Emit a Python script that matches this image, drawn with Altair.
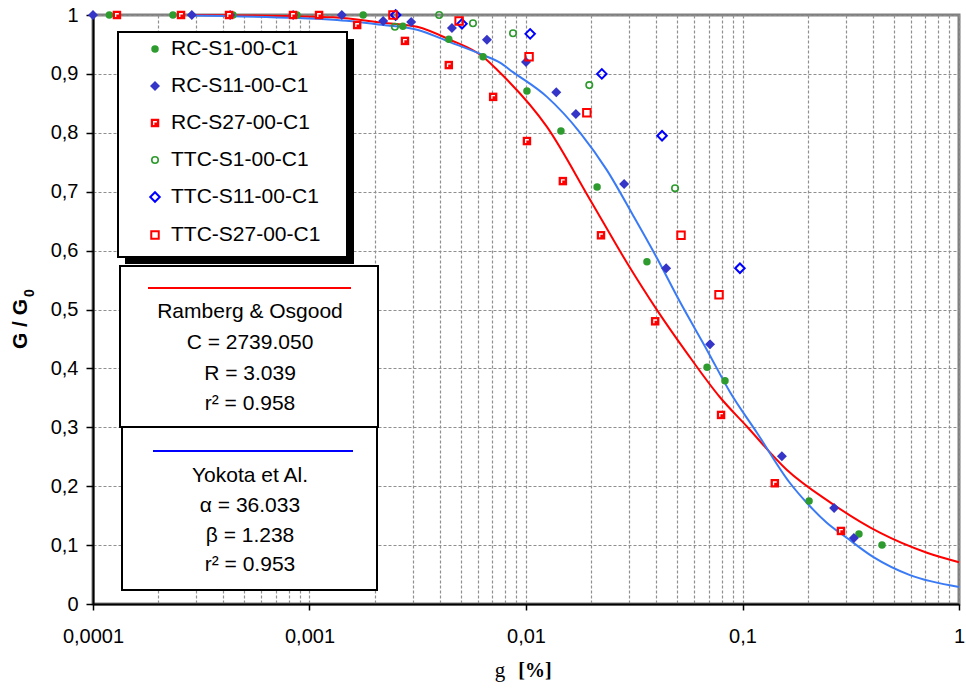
import altair as alt
import pandas as pd

# ---------------- data (strain g in %, G/G0) ----------------
rc_s1_x = [1.19e-4, 2.34e-4, 4.43e-4, 8.75e-4, 1.77e-3, 2.70e-3, 4.40e-3, 6.33e-3, 0.0101, 0.0145, 0.0213, 0.0362, 0.0686, 0.0830, 0.203, 0.345, 0.441]
rc_s1_y = [1.0, 1.0, 1.0, 1.0, 1.0, 0.981, 0.959, 0.929, 0.871, 0.803, 0.708, 0.581, 0.402, 0.379, 0.175, 0.119, 0.100]

rc_s11_x = [1.0e-4, 2.86e-4, 4.30e-4, 8.4e-4, 1.41e-3, 2.19e-3, 2.95e-3, 4.55e-3, 6.60e-3, 0.0100, 0.0138, 0.0170, 0.0284, 0.0444, 0.0708, 0.152, 0.265, 0.327]
rc_s11_y = [1.0, 1.0, 1.0, 1.0, 1.0, 0.990, 0.988, 0.978, 0.958, 0.920, 0.869, 0.832, 0.713, 0.570, 0.441, 0.251, 0.163, 0.112]

rc_s27_x = [1.29e-4, 2.55e-4, 4.25e-4, 8.39e-4, 1.107e-3, 1.66e-3, 2.76e-3, 4.40e-3, 7.05e-3, 0.0101, 0.0148, 0.0222, 0.0395, 0.0796, 0.141, 0.285]
rc_s27_y = [1.0, 1.0, 1.0, 1.0, 1.0, 0.983, 0.956, 0.915, 0.861, 0.786, 0.718, 0.626, 0.480, 0.321, 0.205, 0.124]

ttc_s1_x = [2.48e-3, 3.97e-3, 5.69e-3, 8.71e-3, 0.0196, 0.0488]
ttc_s1_y = [0.980, 1.0, 0.986, 0.969, 0.881, 0.706]

ttc_s11_x = [2.50e-3, 5.06e-3, 0.01045, 0.0224, 0.0425, 0.0973]
ttc_s11_y = [1.0, 0.985, 0.968, 0.900, 0.795, 0.570]

ttc_s27_x = [2.43e-3, 4.91e-3, 0.01033, 0.0191, 0.0520, 0.0779]
ttc_s27_y = [1.0, 0.990, 0.929, 0.834, 0.626, 0.525]

# fitted curves
ro_x = [2.86e-4, 8.4e-4, 1.285e-3, 2.19e-3, 3.14e-3, 4.45e-3, 6.33e-3, 7.35e-3, 0.0125, 0.0198, 0.0293, 0.0403, 0.0554, 0.0787, 0.105, 0.160, 0.253, 0.431, 0.711, 1.0]
ro_y = [1.0, 0.998, 0.996, 0.987, 0.980, 0.958, 0.929, 0.907, 0.810, 0.686, 0.579, 0.499, 0.426, 0.351, 0.301, 0.228, 0.173, 0.121, 0.087, 0.071]

yk_x = [2.86e-4, 1.285e-3, 2.19e-3, 3.14e-3, 4.45e-3, 6.33e-3, 7.58e-3, 8.71e-3, 0.0125, 0.0178, 0.0236, 0.0312, 0.0403, 0.0514, 0.0686, 0.0875, 0.117, 0.166, 0.199, 0.245, 0.304, 0.401, 0.594, 1.0]
yk_y = [0.999, 0.992, 0.983, 0.975, 0.954, 0.932, 0.919, 0.903, 0.861, 0.800, 0.737, 0.660, 0.587, 0.513, 0.431, 0.360, 0.290, 0.205, 0.171, 0.138, 0.112, 0.080, 0.049, 0.029]

series_names = ["RC-S1-00-C1", "RC-S11-00-C1", "RC-S27-00-C1", "TTC-S1-00-C1", "TTC-S11-00-C1", "TTC-S27-00-C1"]
series_x = [rc_s1_x, rc_s11_x, rc_s27_x, ttc_s1_x, ttc_s11_x, ttc_s27_x]
series_y = [rc_s1_y, rc_s11_y, rc_s27_y, ttc_s1_y, ttc_s11_y, ttc_s27_y]

ro_text = ["Ramberg & Osgood", "C = 2739.050", "R = 3.039", "r² = 0.958"]
yk_text = ["Yokota et Al.", "α = 36.033", "β = 1.238", "r² = 0.953"]

x_major = [0.0001, 0.001, 0.01, 0.1, 1]
y_ticks = [0, 0.1, 0.2, 0.3, 0.4, 0.5, 0.6, 0.7, 0.8, 0.9, 1.0]

# ---------------- styles ----------------
styles = [
    dict(shape="circle", filled=True, color="#2e9b2e", size=56, strokeWidth=0),
    dict(shape="diamond", filled=True, color="#3535c8", size=100, strokeWidth=0),
    dict(shape="square", filled=True, color="#ff0000", size=72, strokeWidth=0),
    dict(shape="circle", filled=False, color="#2e9b2e", size=42, strokeWidth=1.6),
    dict(shape="diamond", filled=False, color="#0000ff", size=90, strokeWidth=2),
    dict(shape="square", filled=False, color="#ff0000", size=56, strokeWidth=2),
]
CORNER = "M-0.3,0.45L-0.3,-0.3L0.45,-0.3"  # white highlight inside the filled red squares

FONT = "Liberation Sans"
W, H = 866, 589

x_grid_vals = [float(f"{m}e{e}") for e in range(-4, 0) for m in range(1, 10)] + [1.0]
MAJ = "abs(log(datum.value)/LN10 - round(log(datum.value)/LN10)) < 0.001"

x_axis = alt.Axis(
    values=x_grid_vals, title=None, grid=True, gridColor="#8f8f8f", gridDash=[3, 2], gridWidth=1.2,
    domainColor="black", domainWidth=2, tickColor="black", tickWidth=1.5, tickSize=6,
    tickOpacity={"condition": {"test": MAJ, "value": 1}, "value": 0},
    labelExpr=f"{MAJ} ? replace(format(datum.value, '~g'), '.', ',') : ''",
    labelFont=FONT, labelFontSize=20, labelColor="black", labelPadding=16,
    labelOverlap=False, labelFlush=False, labelBound=False,
)
y_axis = alt.Axis(
    values=y_ticks, title=None, grid=True, gridColor="#8f8f8f", gridDash=[3, 2], gridWidth=1.2,
    domainColor="black", domainWidth=2, tickColor="black", tickWidth=1.5, tickSize=7,
    labelExpr="replace(format(datum.value, '.1~f'), '.', ',')",
    labelFont=FONT, labelFontSize=20, labelColor="black", labelPadding=8,
    labelOverlap=False, labelFlush=False, labelBound=False,
)
xscale = alt.Scale(type="log", domain=[0.0001, 1], nice=False)
yscale = alt.Scale(domain=[0, 1], nice=False)
X = alt.X("x:Q", scale=xscale, axis=x_axis)
Y = alt.Y("y:Q", scale=yscale, axis=y_axis)

layers = []

# fitted curves
layers.append(alt.Chart(pd.DataFrame({"x": ro_x, "y": ro_y})).mark_line(
    color="#ff0000", strokeWidth=2, interpolate="monotone").encode(x=X, y=Y))
layers.append(alt.Chart(pd.DataFrame({"x": yk_x, "y": yk_y})).mark_line(
    color="#3a7bf5", strokeWidth=2, interpolate="monotone").encode(x=X, y=Y))

# data points
for i, (name, xs, ys, st) in enumerate(zip(series_names, series_x, series_y, styles)):
    df = pd.DataFrame({"x": xs, "y": ys})
    layers.append(alt.Chart(df).mark_point(
        shape=st["shape"], filled=st["filled"], color=st["color"], size=st["size"],
        strokeWidth=st["strokeWidth"], opacity=1).encode(x=X, y=Y))
    if i == 2:
        layers.append(alt.Chart(df).mark_point(
            shape=CORNER, filled=False, color="white", size=st["size"],
            strokeWidth=1.3, opacity=1).encode(x=X, y=Y))

one = alt.Data(values=[{}])

def rect(x1, x2, y1, y2, fill, stroke=None, sw=0):
    kw = dict(fill=fill, strokeWidth=sw)
    if stroke:
        kw["stroke"] = stroke
    return alt.Chart(one).mark_rect(**kw).encode(
        x=alt.value(x1), x2=alt.value(x2), y=alt.value(y1), y2=alt.value(y2))

def text(t, x, y, size=21, align="center", font=FONT, weight="normal", angle=0, baseline="middle"):
    kw = dict(font=font, fontSize=size, align=align, baseline=baseline, color="black", fontWeight=weight)
    if angle:
        kw["angle"] = angle
    return alt.Chart(one).mark_text(**kw).encode(
        x=alt.value(x), y=alt.value(y), text=alt.value(t))

# legend box with shadow
layers.append(rect(32, 261, 24, 249, "black"))
layers.append(rect(25, 254, 17, 242, "white", "black", 2))
row_y = [34, 71, 108, 145, 182, 220]
for i, (name, st, ry) in enumerate(zip(series_names, styles, row_y)):
    layers.append(alt.Chart(one).mark_point(
        shape=st["shape"], filled=st["filled"], color=st["color"], size=st["size"],
        strokeWidth=st["strokeWidth"], opacity=1).encode(x=alt.value(62), y=alt.value(ry)))
    if i == 2:
        layers.append(alt.Chart(one).mark_point(
            shape=CORNER, filled=False, color="white", size=st["size"],
            strokeWidth=1.3, opacity=1).encode(x=alt.value(62), y=alt.value(ry)))
    layers.append(text(name, 78, ry, align="left"))

# Ramberg & Osgood box
layers.append(rect(27, 285, 251, 412, "white", "black", 2))
layers.append(alt.Chart(one).mark_rule(color="#ff0000", strokeWidth=2).encode(
    x=alt.value(55), x2=alt.value(258), y=alt.value(273)))
for t, ty in zip(ro_text, [297, 328, 359, 389]):
    layers.append(text(t, 157, ty))

# Yokota box
layers.append(rect(29, 284, 412, 575, "white", "black", 2))
layers.append(alt.Chart(one).mark_rule(color="#0000ff", strokeWidth=2).encode(
    x=alt.value(60), x2=alt.value(260), y=alt.value(436)))
for t, ty in zip(yk_text, [461, 491, 521, 550]):
    layers.append(text(t, 157, ty))

# axis titles
layers.append(text("G / G", -72, 309, size=21, weight="bold", angle=270))
layers.append(text("0", -63, 278, size=14, weight="bold", angle=270))
layers.append(text("g", 407, 662, size=21, font="Liberation Serif", baseline="alphabetic"))
layers.append(text("[%]", 442, 662, size=20, font="Liberation Serif", weight="bold", baseline="alphabetic"))

chart = alt.layer(*layers).properties(
    width=W, height=H,
    autosize=alt.AutoSizeParams(type="none"),
    padding={"left": 93, "top": 15, "right": 7, "bottom": 85},
    background="white",
).configure_view(stroke="#808080", strokeWidth=3)

chart.save("out.html", embed_options={"renderer": "svg", "actions": False})
